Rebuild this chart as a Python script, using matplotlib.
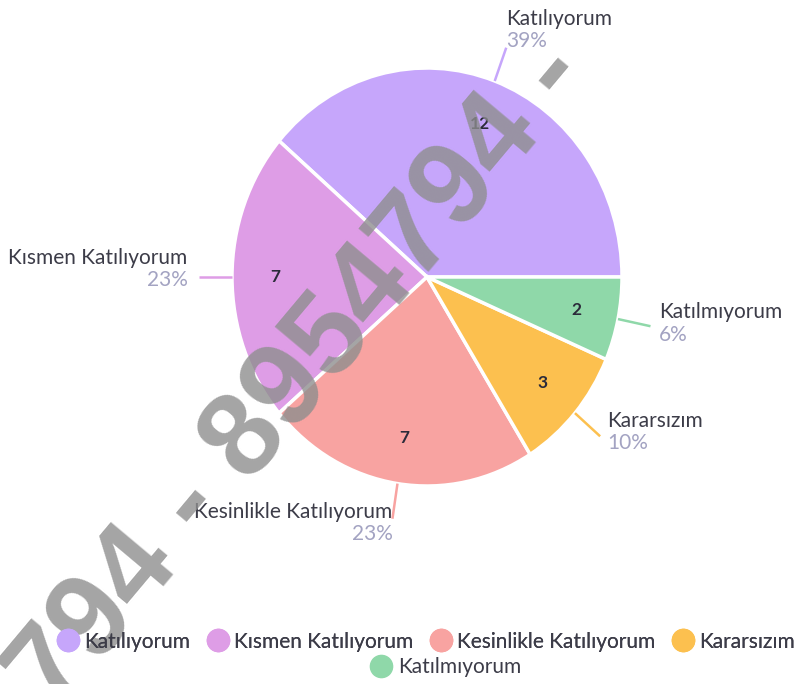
import numpy as np
import matplotlib
matplotlib.use("Agg")
import matplotlib.pyplot as plt
from matplotlib.lines import Line2D

categories = ["Katılıyorum", "Kısmen Katılıyorum", "Kesinlikle Katılıyorum", "Kararsızım", "Katılmıyorum"]
values = [12, 7, 7, 3, 2]
percent_labels = ["39%", "23%", "23%", "10%", "6%"]
colors = ["#C6A6FB", "#DE9DE6", "#F8A3A1", "#FCC04F", "#8FD8A9"]

W, H = 801, 684
fig = plt.figure(figsize=(W / 100, H / 100), dpi=100)
ax = fig.add_axes([0, 0, 1, 1])

FONT = "Lato"
FS = 15
wedges, texts, autotexts = ax.pie(
    values, colors=colors, startangle=0, counterclock=True, radius=1.0,
    autopct=lambda p: f"{round(p * sum(values) / 100):d}", pctdistance=0.78,
    wedgeprops=dict(edgecolor="white", linewidth=2.5),
    textprops=dict(fontsize=12.5, fontweight="bold", color="#2b2b3a", family=FONT),
)

# elliptical pixel scaling of the reference
cx, cy = 427, 277
rx, ry = 195, 209
ax.set_xlim(-cx / rx, (W - cx) / rx)
ax.set_ylim(-(H - cy) / ry, cy / ry)
ax.set_aspect("auto")
ax.axis("off")

# outside labels with leader lines
label_offsets = [  # (dx, dy) in points for text block, alignment
    (0, 13, "left"),
    (-8, 6, "right"),
    (0, -3, "right"),
    (5, 3, "left"),
    (6, 2, "left"),
]
r_end = 1.17
for w, name, pct, col, (ox, oy, ha) in zip(wedges, categories, percent_labels, colors, label_offsets):
    ang = np.deg2rad((w.theta1 + w.theta2) / 2)
    x0, y0 = np.cos(ang), np.sin(ang)
    x1, y1 = r_end * np.cos(ang), r_end * np.sin(ang)
    ax.plot([x0, x1], [y0, y1], color=col, lw=1.8, solid_capstyle="butt")
    ax.annotate(name, (x1, y1), xytext=(ox, oy + 8), textcoords="offset points",
                ha=ha, va="center", fontsize=FS, color="#3c3c48", family=FONT)
    ax.annotate(pct, (x1, y1), xytext=(ox, oy - 8), textcoords="offset points",
                ha=ha, va="center", fontsize=FS, color="#a3a3c2", family=FONT)

# legend
handles = [Line2D([], [], marker="o", linestyle="none", markersize=16,
                  markerfacecolor=c, markeredgecolor=c) for c in colors]
leg1 = fig.legend(handles[:4], categories[:4], loc="center", bbox_to_anchor=(0.532, 0.062),
                  ncol=4, frameon=False, handletextpad=0.3, columnspacing=0.8,
                  handlelength=1.0, prop=dict(family=FONT, size=FS), labelcolor="#3c3c48")
leg2 = fig.legend(handles[4:], categories[4:], loc="center", bbox_to_anchor=(0.557, 0.025),
                  ncol=1, frameon=False, handletextpad=0.3, handlelength=1.0,
                  prop=dict(family=FONT, size=FS), labelcolor="#3c3c48")
fig.add_artist(leg1)

# watermark
fig.text(300 / W, 1 - 378 / H, "794 - 8954794 -", rotation=50, ha="center", va="center",
         fontsize=85, fontweight="bold", color="#8e8e8e", alpha=0.8, family="Liberation Sans")

fig.savefig("out.png", dpi=100, facecolor="white")
